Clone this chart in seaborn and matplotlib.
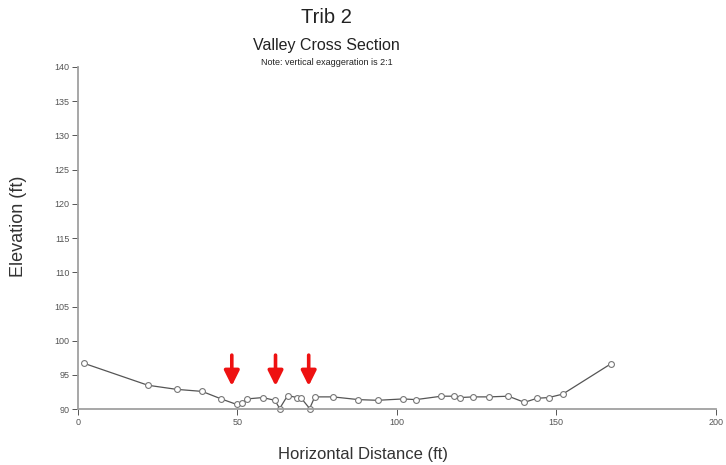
import matplotlib
matplotlib.use("Agg")
import matplotlib.pyplot as plt
import seaborn as sns
import pandas as pd

# cross-section survey points
distance = [2, 22, 31, 39, 45, 49.8, 51.4, 53, 58, 61.8, 63.3, 65.8, 68.7, 69.9,
            72.7, 74.3, 80, 88, 94, 102, 106, 114, 118, 119.7, 124, 129, 135,
            140, 144, 147.6, 152, 167]
elevation = [96.7, 93.5, 92.9, 92.6, 91.5, 90.7, 90.9, 91.5, 91.7, 91.3, 90.1, 92.0,
             91.7, 91.7, 90.1, 91.8, 91.8, 91.4, 91.3, 91.5, 91.4, 91.9, 91.9, 91.7,
             91.8, 91.8, 91.9, 91.0, 91.6, 91.7, 92.2, 96.6]
arrow_x = [48.3, 62, 72.4]
arrow_top, arrow_tip = 97.9, 93.4

df = pd.DataFrame({"dist": distance, "elev": elevation})

sns.set_style("white")
plt.rcParams["font.family"] = ["Liberation Sans", "DejaVu Sans"]

fig = plt.figure(figsize=(7.26, 4.65), dpi=100)
ax = fig.add_axes([0.107, 0.12, 0.879, 0.736])

sns.lineplot(data=df, x="dist", y="elev", sort=False, ax=ax, color="#555555",
             linewidth=0.9, marker="o", markersize=4.2, markerfacecolor="white",
             markeredgecolor="#777777", markeredgewidth=0.8, clip_on=False)

for xa in arrow_x:
    ax.annotate("", xy=(xa, arrow_tip), xytext=(xa, arrow_top),
                arrowprops=dict(arrowstyle="-|>,head_width=0.45,head_length=0.9",
                                color="#ee1111", lw=2.6, shrinkA=0, shrinkB=0))

ax.set_xlim(0, 200)
ax.set_ylim(90, 140)
ax.set_xticks(range(0, 201, 50))
ax.set_yticks(range(90, 141, 5))
ax.tick_params(axis="both", labelsize=6.5, colors="#555555", length=4, width=0.7,
               direction="out", left=True, bottom=True, pad=2)
for s in ["top", "right"]:
    ax.spines[s].set_visible(False)
for s in ["left", "bottom"]:
    ax.spines[s].set_color("#a0a0a0")
    ax.spines[s].set_linewidth(1.3)

ax.set_xlabel("Horizontal Distance (ft)", fontsize=12, color="#333333", va="center")
ax.set_ylabel("Elevation (ft)", fontsize=13, color="#333333", va="center", ha="center")
ax.xaxis.set_label_coords(0.447, -0.132)
ax.yaxis.set_label_coords(-0.092, 0.535)

fig.text(0.45, 0.962, "Trib 2", ha="center", va="center", fontsize=14.5, color="#222222")
fig.text(0.45, 0.903, "Valley Cross Section", ha="center", va="center", fontsize=11.5, color="#222222")
fig.text(0.45, 0.866, "Note: vertical exaggeration is 2:1", ha="center", va="center", fontsize=6.5, color="#222222")

fig.savefig("out.png", dpi=100)
